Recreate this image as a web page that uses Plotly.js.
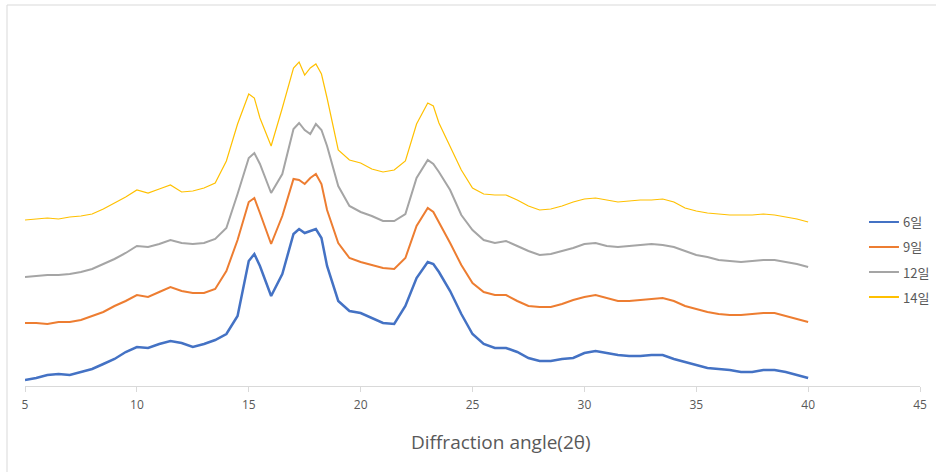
<!DOCTYPE html>
<html>
<head>
<meta charset="utf-8">
<script src="https://cdn.plot.ly/plotly-3.0.1.min.js"></script>
<style>
html,body{margin:0;padding:0;background:#fff;}
#chart{width:936px;height:472px;}
</style>
</head>
<body>
<div id="chart"></div>
<script>
// Diffraction angle (2θ) sample positions
const angles = [5,5.5,6,6.5,7,7.5,8,8.5,9,9.5,10,10.5,11,11.5,12,12.5,13,13.5,14,14.5,
  15,15.25,15.5,16,16.5,17,17.25,17.5,17.75,18,18.25,18.5,19,19.5,20,20.5,21,21.5,22,22.5,
  23,23.25,23.5,24,24.5,25,25.5,26,26.5,27,27.5,28,28.5,29,29.5,30,30.5,31,31.5,32,32.5,
  33,33.5,34,34.5,35,35.5,36,36.5,37,37.5,38,38.5,39,39.5,40];

// Intensities (arbitrary units, stacked offsets as in the figure)
const day6 = [6,8,11,12,11,14,17,22,27,34,39,38,42,45,43,39,42,46,52,70,
  125,132,120,90,112,152,157,153,155,157,148,120,85,75,73,68,63,62,80,108,
  124,122,114,95,72,52,42,38,38,34,28,25,25,27,28,33,35,33,31,30,30,
  31,31,27,24,21,18,17,16,14,14,16,16,14,11,8];

const day9 = [63,63,62,64,64,66,70,74,80,85,91,89,94,99,95,93,93,97,115,146,
  184,188,173,142,170,207,206,202,208,212,202,176,143,128,124,121,118,117,128,160,
  178,174,164,143,121,103,94,91,91,85,80,79,79,82,86,89,91,88,85,85,86,
  87,88,85,80,77,74,72,71,71,72,73,73,70,67,64];

const day12 = [109,110,111,111,112,114,117,122,127,133,140,139,142,146,143,142,143,147,158,192,
  228,233,222,193,212,257,263,256,252,262,256,240,200,180,174,170,165,165,172,208,
  226,222,214,196,171,156,146,143,145,140,135,131,132,135,138,142,143,140,139,140,141,
  142,141,139,135,131,129,126,125,124,125,126,126,124,122,119];

const day14 = [166,167,168,167,169,170,172,177,183,189,196,193,197,201,194,195,198,203,225,262,
  292,288,268,240,278,318,324,311,318,322,312,288,236,226,223,217,214,216,225,262,
  283,280,263,240,216,198,192,191,191,186,180,176,177,180,184,187,188,186,184,185,186,
  186,187,184,178,175,173,172,171,171,171,172,171,169,167,164];

const seriesNames = ["6일","9일","12일","14일"];
const xTicks = [5,10,15,20,25,30,35,40,45];
const xTitle = "Diffraction angle(2θ)";

const colors = ["#4472C4","#ED7D31","#A5A5A5","#FFC000"];
const widths = [2.5,2,2,1.2];
const ys = [day6, day9, day12, day14];

const traces = ys.map((y,i)=>({
  x: angles, y: y, type: "scatter", mode: "lines", name: seriesNames[i],
  showlegend: false,
  line: {color: colors[i], width: widths[i]}
}));

// Custom legend (Excel-style, to the right inside the chart area)
const legY = [0.4316, 0.3658, 0.30, 0.2342];
const legendShapes = seriesNames.map((n,i)=>({
  type: "line", xref: "paper", yref: "paper",
  x0: 0.943, x1: 0.9765, y0: legY[i], y1: legY[i],
  line: {color: colors[i], width: 2}
}));
const legendTexts = seriesNames.map((n,i)=>({
  text: n, xref: "paper", yref: "paper", x: 0.979, y: legY[i],
  xanchor: "left", yanchor: "middle", showarrow: false,
  font: {family: "'Liberation Sans Narrow', 'Noto Sans CJK KR', sans-serif", size: 13, color: "#595959"}
}));

const layout = {
  width: 936, height: 472,
  margin: {l:25, r:16, t:6, b:86},
  paper_bgcolor: "#fff", plot_bgcolor: "#fff",
  showlegend: false,
  xaxis: {
    range: [5,45], tickmode: "array", tickvals: xTicks, ticktext: xTicks.map(String),
    showgrid: false, zeroline: false, showline: true, linecolor: "#D9D9D9", linewidth: 1,
    ticks: "outside", ticklen: 5, tickcolor: "#D9D9D9", ticklabelstandoff: 3,
    tickfont: {family: "'Liberation Sans Narrow', 'Open Sans', sans-serif", size: 12, color: "#595959"},
    automargin: false, fixedrange: true
  },
  yaxis: {
    range: [0,380], visible: false, showgrid: false, zeroline: false, fixedrange: true
  },
  annotations: [{
    text: xTitle, xref: "paper", yref: "paper",
    x: 0.5324, y: -0.147, xanchor: "center", yanchor: "middle", showarrow: false,
    font: {family: "'Liberation Sans Narrow', 'Open Sans', sans-serif", size: 19, color: "#595959"}
  }].concat(legendTexts),
  shapes: [{
    type: "rect", xref: "paper", yref: "paper",
    x0: -0.0201, x1: 1.03, y0: -0.3, y1: 1.0026,
    line: {color: "#D9D9D9", width: 1}, fillcolor: "rgba(0,0,0,0)", layer: "below"
  }].concat(legendShapes)
};

Plotly.newPlot("chart", traces, layout, {displayModeBar: false, staticPlot: true});
</script>
</body>
</html>
